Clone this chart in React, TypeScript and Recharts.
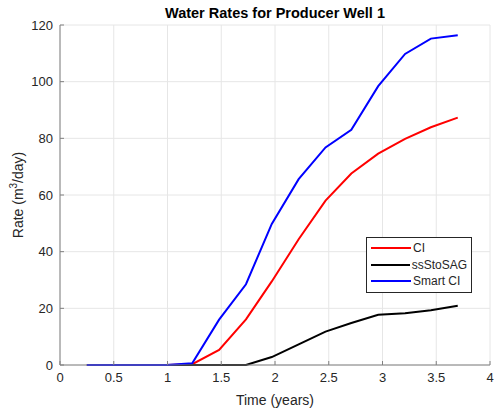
import React from 'react';
import { LineChart, Line, XAxis, YAxis, CartesianGrid } from 'recharts';

// time in years (every 90 days)
const years = [0.25, 0.49, 0.74, 0.99, 1.23, 1.48, 1.73, 1.97, 2.22, 2.47, 2.71, 2.96, 3.21, 3.45, 3.7];
const ciRates = [0, 0, 0, 0, 0.3, 5.3, 16.1, 29.5, 44.4, 58.0, 67.6, 74.6, 79.8, 83.9, 87.3];
const ssStoSagRates = [0, 0, 0, 0, 0, 0, 0, 2.8, 7.3, 11.8, 14.8, 17.7, 18.3, 19.3, 20.9];
const smartCiRates = [0, 0, 0, 0, 0.6, 16.0, 28.5, 49.8, 65.6, 76.8, 83.0, 98.4, 109.8, 115.2, 116.4];

const xTicks = [0, 0.5, 1, 1.5, 2, 2.5, 3, 3.5, 4];
const yTicks = [0, 20, 40, 60, 80, 100, 120];

const seriesInfo = [
  { key: 'ci', name: 'CI', color: '#ff0000' },
  { key: 'ssStoSAG', name: 'ssStoSAG', color: '#000000' },
  { key: 'smartCi', name: 'Smart CI', color: '#0000ff' },
];

const chartData = years.map((t, i) => ({
  t,
  ci: ciRates[i],
  ssStoSAG: ssStoSagRates[i],
  smartCi: smartCiRates[i],
}));

const FONT = '"Liberation Sans", Arial, Helvetica, sans-serif';
const TEXT = '#262626';
const AXIS = '#808080';
const TICK_MARGIN = 7;

const XTick = ({ x, y, payload }) => {
  const axisY = y - TICK_MARGIN;
  return (
    <g>
      <line x1={x} y1={axisY} x2={x} y2={axisY - 4} stroke={AXIS} />
      <text x={x} y={y + 10} textAnchor="middle" fontSize={13} fill={TEXT} fontFamily={FONT}>
        {payload.value}
      </text>
    </g>
  );
};

const YTick = ({ x, y, payload }) => {
  const axisX = x + TICK_MARGIN;
  return (
    <g>
      <line x1={axisX} y1={y} x2={axisX + 4} y2={y} stroke={AXIS} />
      <text x={x} y={y + 4.5} textAnchor="end" fontSize={13} fill={TEXT} fontFamily={FONT}>
        {payload.value}
      </text>
    </g>
  );
};

const YLabel = ({ viewBox }) => {
  const cx = viewBox.x + 23;
  const cy = viewBox.y + viewBox.height / 2;
  return (
    <text
      x={cx}
      y={cy}
      transform={`rotate(-90, ${cx}, ${cy})`}
      textAnchor="middle"
      fontSize={14}
      fill={TEXT}
      fontFamily={FONT}
    >
      Rate (m<tspan fontSize={10} dy={-6}>3</tspan>
      <tspan dy={6}>/day)</tspan>
    </text>
  );
};

const XLabel = ({ viewBox }) => (
  <text
    x={viewBox.x + viewBox.width / 2}
    y={viewBox.y + 40}
    textAnchor="middle"
    fontSize={14}
    fill={TEXT}
    fontFamily={FONT}
  >
    Time (years)
  </text>
);

const LegendBox = () => (
  <div
    style={{
      position: 'absolute',
      left: 366,
      top: 237,
      width: 96,
      border: '1px solid #262626',
      background: '#fff',
      padding: '2px 4px',
      fontFamily: FONT,
      fontSize: 12,
      color: TEXT,
    }}
  >
    {seriesInfo.map(s => (
      <div key={s.key} style={{ display: 'flex', alignItems: 'center', height: 16.5 }}>
        <svg width={40} height={4} style={{ marginRight: 2 }}>
          <line x1={0} y1={2} x2={40} y2={2} stroke={s.color} strokeWidth={2} />
        </svg>
        <span>{s.name}</span>
      </div>
    ))}
  </div>
);

export default function App() {
  return (
    <div style={{ position: 'absolute', left: 0, top: 0, width: 495, height: 412, background: '#fff' }}>
      <div
        style={{
          position: 'absolute',
          left: 60,
          width: 430,
          top: 5,
          textAlign: 'center',
          fontFamily: FONT,
          fontWeight: 'bold',
          fontSize: 14.5,
          color: '#000',
        }}
      >
        Water Rates for Producer Well 1
      </div>
      <LineChart width={495} height={412} data={chartData} margin={{ top: 25, right: 5, left: 0, bottom: 0 }}>
        <CartesianGrid stroke="#e6e6e6" strokeWidth={1} />
        <XAxis
          dataKey="t"
          type="number"
          domain={[0, 4]}
          ticks={xTicks}
          height={47}
          stroke={AXIS}
          tickLine={false}
          tickSize={0}
          tickMargin={TICK_MARGIN}
          tick={<XTick />}
          interval={0}
          label={<XLabel />}
        />
        <YAxis
          type="number"
          domain={[0, 120]}
          ticks={yTicks}
          width={60}
          stroke={AXIS}
          tickLine={false}
          tickSize={0}
          tickMargin={TICK_MARGIN}
          tick={<YTick />}
          interval={0}
          label={<YLabel />}
        />
        {seriesInfo.map(s => (
          <Line
            key={s.key}
            type="linear"
            dataKey={s.key}
            name={s.name}
            stroke={s.color}
            strokeWidth={2}
            dot={false}
            isAnimationActive={false}
          />
        ))}
      </LineChart>
      <LegendBox />
    </div>
  );
}
